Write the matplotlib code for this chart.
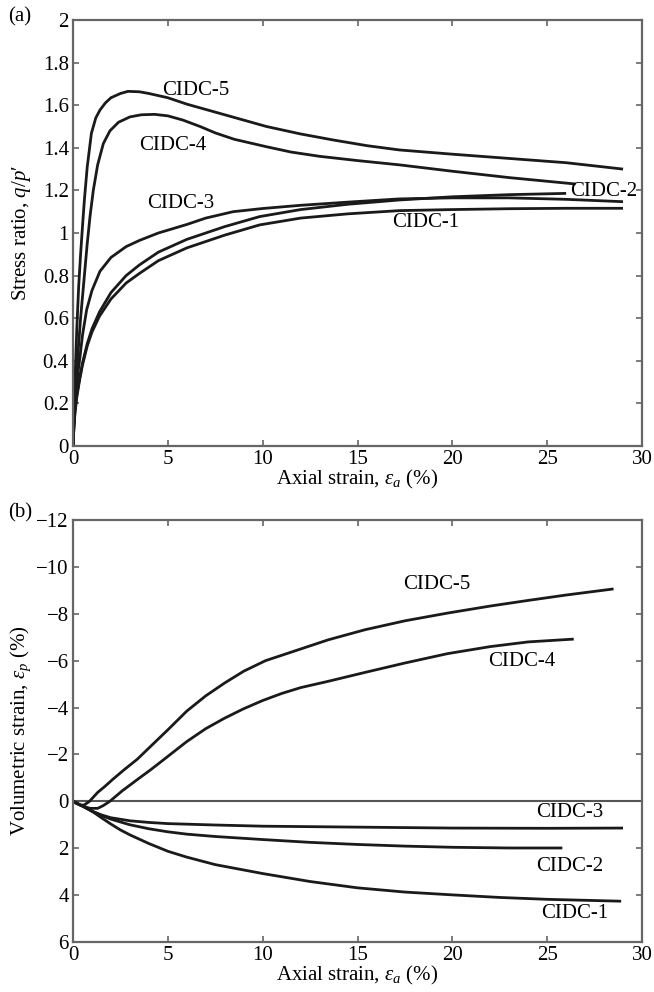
import matplotlib
matplotlib.use("Agg")
import matplotlib.pyplot as plt

plt.rcParams['font.family'] = ['Liberation Serif', 'DejaVu Serif']
plt.rcParams['mathtext.fontset'] = 'custom'
plt.rcParams['mathtext.rm'] = 'Liberation Serif'
plt.rcParams['mathtext.it'] = 'Liberation Serif:italic'
plt.rcParams['mathtext.fallback'] = 'cm'

# ---------------- Panel (a): stress ratio ----------------
a1_x = [0, 0.05, 0.1, 0.2, 0.35, 0.5, 0.75, 1.0, 1.4, 2.0, 2.8, 3.5, 4.5, 6, 8, 9.84, 12, 14.5, 17.2, 20, 23, 26, 29]
a1_y = [0, 0.09, 0.15, 0.23, 0.31, 0.38, 0.47, 0.535, 0.61, 0.69, 0.765, 0.81, 0.87, 0.93, 0.99, 1.038, 1.07, 1.09, 1.105, 1.11, 1.114, 1.116, 1.116]

a2_x = [0, 0.05, 0.1, 0.2, 0.35, 0.5, 0.75, 1.0, 1.4, 2.0, 2.8, 3.5, 4.5, 6, 8, 9.84, 12, 14.5, 17.2, 20, 23, 26]
a2_y = [0, 0.1, 0.16, 0.24, 0.32, 0.39, 0.48, 0.55, 0.63, 0.72, 0.80, 0.85, 0.91, 0.97, 1.03, 1.077, 1.11, 1.135, 1.155, 1.17, 1.18, 1.186]

a3_x = [0, 0.05, 0.1, 0.2, 0.37, 0.5, 0.72, 1.0, 1.42, 2.0, 2.8, 3.5, 4.5, 6, 7, 8.44, 10, 12, 14.5, 17.2, 20, 23, 26, 29]
a3_y = [0, 0.12, 0.2, 0.3, 0.42, 0.52, 0.64, 0.73, 0.82, 0.885, 0.936, 0.965, 1.0, 1.04, 1.07, 1.10, 1.115, 1.13, 1.145, 1.16, 1.165, 1.165, 1.158, 1.147]

a4_x = [0, 0.1, 0.2, 0.3, 0.4, 0.6, 0.75, 0.9, 1.07, 1.3, 1.6, 1.95, 2.4, 3, 3.6, 4.3, 5, 5.8, 6.7, 7.5, 8.5, 10.2, 11.5, 13, 15, 17.2, 20, 23, 26.5]
a4_y = [0, 0.2, 0.35, 0.48, 0.6, 0.8, 0.95, 1.08, 1.2, 1.32, 1.42, 1.48, 1.52, 1.545, 1.555, 1.557, 1.55, 1.53, 1.50, 1.47, 1.44, 1.405, 1.38, 1.36, 1.34, 1.32, 1.29, 1.26, 1.23]

a5_x = [0, 0.1, 0.2, 0.3, 0.4, 0.5, 0.6, 0.75, 0.97, 1.2, 1.42, 1.7, 2, 2.5, 2.9, 3.5, 4, 5, 6, 7, 8, 9, 10.2, 12, 13.7, 15.5, 17.2, 20, 23, 26, 29]
a5_y = [0, 0.3, 0.55, 0.75, 0.9, 1.03, 1.155, 1.31, 1.468, 1.54, 1.577, 1.61, 1.635, 1.655, 1.665, 1.663, 1.655, 1.635, 1.605, 1.58, 1.555, 1.53, 1.50, 1.465, 1.437, 1.41, 1.39, 1.37, 1.35, 1.33, 1.30]

a_yticks = [0, 0.2, 0.4, 0.6, 0.8, 1.0, 1.2, 1.4, 1.6, 1.8, 2.0]
a_yticklabels = ['0', '0.2', '0.4', '0.6', '0.8', '1', '1.2', '1.4', '1.6', '1.8', '2']

# ---------------- Panel (b): volumetric strain ----------------
b1_x = [0, 0.5, 1, 1.5, 2, 2.5, 3, 4, 5, 6, 7.5, 10, 12.5, 15, 17.5, 20, 22.5, 25, 28.9]
b1_y = [0, 0.2, 0.42, 0.7, 0.97, 1.22, 1.43, 1.8, 2.13, 2.38, 2.7, 3.08, 3.42, 3.69, 3.87, 3.99, 4.1, 4.18, 4.26]

b2_x = [0, 0.5, 1, 1.5, 2, 3, 4, 5, 6, 7.5, 10, 12.5, 15, 17.5, 20, 23, 25.8]
b2_y = [0, 0.2, 0.42, 0.6, 0.76, 1.0, 1.17, 1.3, 1.4, 1.5, 1.63, 1.75, 1.84, 1.91, 1.96, 1.99, 1.99]

b3_x = [0, 0.5, 1, 1.5, 2, 3, 4, 5, 7.5, 10, 15, 20, 25, 29]
b3_y = [0, 0.2, 0.42, 0.58, 0.7, 0.83, 0.9, 0.95, 1.01, 1.06, 1.1, 1.14, 1.15, 1.14]

b4_x = [0, 0.5, 0.9, 1.3, 1.6, 1.94, 2.6, 3.41, 4.1, 4.8, 6, 7, 8, 9, 10, 11, 12, 13.46, 15.4, 17.5, 19.75, 22, 24, 26.4]
b4_y = [0, 0.2, 0.3, 0.3, 0.18, 0, -0.45, -0.94, -1.35, -1.79, -2.55, -3.1, -3.55, -3.95, -4.3, -4.6, -4.85, -5.12, -5.5, -5.9, -6.3, -6.6, -6.8, -6.92]

b5_x = [0, 0.2, 0.4, 0.6, 0.87, 1.3, 1.7, 2.1, 2.7, 3.38, 5, 6, 7, 8, 9, 10.15, 11.9, 13.46, 15.4, 17.5, 19.75, 22, 24, 26, 28.5]
b5_y = [0, 0.1, 0.17, 0.15, 0, -0.38, -0.65, -0.94, -1.35, -1.79, -3.05, -3.85, -4.5, -5.05, -5.55, -6.0, -6.47, -6.89, -7.32, -7.7, -8.03, -8.33, -8.57, -8.8, -9.06]

b_yticks = [-12, -10, -8, -6, -4, -2, 0, 2, 4, 6]
b_yticklabels = ['\u221212', '\u221210', '\u22128', '\u22126', '\u22124', '\u22122', '0', '2', '4', '6']

x_ticks = [0, 5, 10, 15, 20, 25, 30]
x_ticklabels = ['0', '5', '10', '15', '20', '25', '30']

W, H = 654, 992
fig = plt.figure(figsize=(W / 100, H / 100), dpi=100)

def frac(l, t, r, b):
    return [l / W, 1 - b / H, (r - l) / W, (b - t) / H]

axA = fig.add_axes(frac(73, 20, 642, 446))
axB = fig.add_axes(frac(73, 520, 642, 942))

FS = 15
spine_col = '#666666'
line_kw = dict(color='#1a1a1a', lw=2.0, solid_capstyle='butt', solid_joinstyle='round')

for ax in (axA, axB):
    for s in ax.spines.values():
        s.set_color(spine_col)
        s.set_linewidth(1.6)
    ax.tick_params(direction='in', top=True, right=True, length=4, width=1.2,
                   color=spine_col, labelsize=FS, pad=3)
    ax.set_xlim(0, 30)
    ax.set_xticks(x_ticks)
    ax.set_xticklabels(x_ticklabels)

# Panel (a)
for xs, ys in [(a1_x, a1_y), (a2_x, a2_y), (a3_x, a3_y), (a4_x, a4_y), (a5_x, a5_y)]:
    axA.plot(xs, ys, **line_kw)
axA.set_ylim(0, 2)
axA.set_yticks(a_yticks)
axA.set_yticklabels(a_yticklabels)
axA.set_ylabel("Stress ratio, $q/p$\u2032", fontsize=FS)
axA.set_xlabel(r"Axial strain, $\varepsilon_a$ (%)", fontsize=FS)
axA.yaxis.set_label_coords(-0.07, 0.5)
axA.xaxis.set_label_coords(0.5, -0.052)

axA.text(4.7, 1.67, 'CIDC-5', fontsize=FS, va='center', ha='left')
axA.text(3.5, 1.413, 'CIDC-4', fontsize=FS, va='center', ha='left')
axA.text(3.9, 1.14, 'CIDC-3', fontsize=FS, va='center', ha='left')
axA.text(16.8, 1.047, 'CIDC-1', fontsize=FS, va='center', ha='left')
axA.text(26.2, 1.194, 'CIDC-2', fontsize=FS, va='center', ha='left')

# Panel (b)
axB.axhline(0, color='#555555', lw=1.5)
for xs, ys in [(b1_x, b1_y), (b2_x, b2_y), (b3_x, b3_y), (b4_x, b4_y), (b5_x, b5_y)]:
    axB.plot(xs, ys, **line_kw)
axB.set_ylim(6, -12)
axB.set_yticks(b_yticks)
axB.set_yticklabels(b_yticklabels)
axB.set_ylabel(r"Volumetric strain, $\varepsilon_p$ (%)", fontsize=FS)
axB.set_xlabel(r"Axial strain, $\varepsilon_a$ (%)", fontsize=FS)
axB.yaxis.set_label_coords(-0.07, 0.5)
axB.xaxis.set_label_coords(0.5, -0.052)

axB.text(17.4, -9.23, 'CIDC-5', fontsize=FS, va='center', ha='left')
axB.text(21.9, -5.97, 'CIDC-4', fontsize=FS, va='center', ha='left')
axB.text(24.4, 0.48, 'CIDC-3', fontsize=FS, va='center', ha='left')
axB.text(24.4, 2.78, 'CIDC-2', fontsize=FS, va='center', ha='left')
axB.text(24.7, 4.77, 'CIDC-1', fontsize=FS, va='center', ha='left')

fig.text(8 / W, 1 - 17 / H, '(a)', fontsize=FS, ha='left', va='center')
fig.text(8 / W, 1 - 513 / H, '(b)', fontsize=FS, ha='left', va='center')

fig.savefig('out.png', dpi=100, facecolor='white')
